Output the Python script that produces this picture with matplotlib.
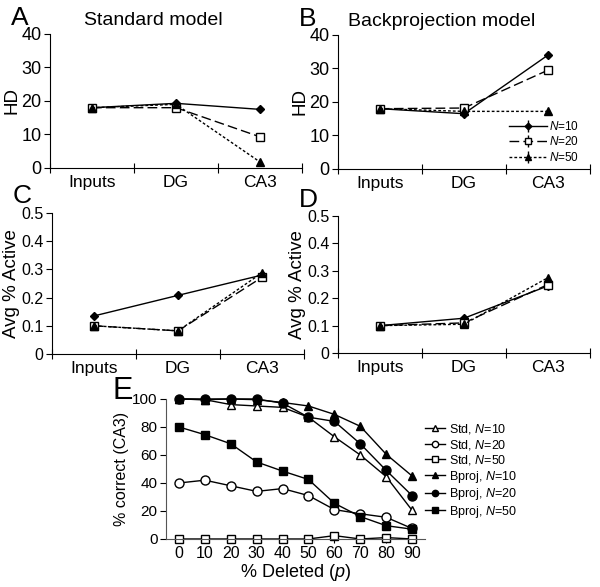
import numpy as np
import matplotlib.pyplot as plt

plt.rcParams['font.family'] = ['Liberation Sans', 'DejaVu Sans']
plt.rcParams['mathtext.fontset'] = 'custom'
plt.rcParams['mathtext.rm'] = 'Liberation Sans'
plt.rcParams['mathtext.it'] = 'Liberation Sans:italic'

stages = ["Inputs", "DG", "CA3"]
n_labels = [r"$\it{N}$=10", r"$\it{N}$=20", r"$\it{N}$=50"]

# HD, standard model (A) and backprojection model (B)
hd_std = [[18.0, 19.3, 17.5], [18.0, 18.0, 9.3], [18.0, 19.0, 1.8]]
hd_std_err = [[0.5, 0.6, 0.4], [0.4, 0.4, 0.4], [0.4, 0.4, 0.3]]
hd_bp = [[18.0, 16.5, 34.0], [18.0, 18.2, 29.5], [18.0, 17.2, 17.2]]
hd_bp_err = [[0.4, 0.4, 0.4], [0.4, 0.4, 0.4], [0.4, 0.3, 0.3]]

# Avg % active, standard (C) and backprojection (D)
act_std = [[0.135, 0.208, 0.280], [0.100, 0.082, 0.272], [0.100, 0.082, 0.288]]
act_std_err = [[0.004, 0.012, 0.004], [0.003, 0.004, 0.004], [0.003, 0.004, 0.004]]
act_bp = [[0.100, 0.127, 0.245], [0.100, 0.110, 0.250], [0.100, 0.105, 0.275]]
act_bp_err = [[0.003, 0.005, 0.006], [0.003, 0.005, 0.006], [0.003, 0.005, 0.006]]

# % correct vs % deleted (E)
deleted = [0, 10, 20, 30, 40, 50, 60, 70, 80, 90]
std_10 = [100, 99.5, 96, 95, 94, 87, 73, 60, 44.5, 20.5]
std_20 = [40, 42, 38, 34, 36, 31, 21, 18, 15.5, 7.5]
std_50 = [0, 0, 0, 0, 0, 0, 2.4, 0, 1, 0]
bp_10 = [100, 99.5, 100, 99.5, 97.5, 95, 89, 80.5, 60.5, 45]
bp_20 = [100, 100, 100, 100, 97, 87, 84, 68, 49, 31]
bp_50 = [80, 74.5, 68, 55, 48.5, 42.5, 25.5, 16, 9.5, 7]

styles = [dict(ls='-', marker='D', mfc='black', ms=4.5),
          dict(ls=(0, (7, 3)), marker='s', mfc='white', ms=6),
          dict(ls=(0, (2, 1.5)), marker='^', mfc='black', ms=5.5)]

fig = plt.figure(figsize=(6, 5.87), dpi=100)


def panel(rect, data, err, ylim, yticks, ylabel, letter, title=None, legend=False):
    ax = fig.add_axes(rect)
    x = np.arange(3) + 0.5
    for d, e, st, lab in zip(data, err, styles, n_labels):
        ax.errorbar(x, d, yerr=e, color='black', lw=1, mec='black',
                    capsize=0, elinewidth=1, label=lab, **st)
    ax.set_xlim(0, 3)
    ax.set_ylim(*ylim)
    ax.set_yticks(yticks)
    ax.set_xticks([0, 1, 2, 3])
    ax.set_xticklabels([])
    ax.set_xticks(x, minor=True)
    ax.set_xticklabels(stages, minor=True, fontsize=12.5)
    ax.tick_params(axis='x', which='minor', length=0, pad=5)
    ax.tick_params(axis='x', which='major', direction='inout', length=7)
    ax.tick_params(axis='y', direction='out', length=4, labelsize=13, pad=2)
    for s in ['top', 'right']:
        ax.spines[s].set_visible(False)
    ax.set_ylabel(ylabel, fontsize=13.5, labelpad=1)
    if title:
        ax.text(0.41, 1.1, title, transform=ax.transAxes, fontsize=14,
                ha='center', va='center')
    ax.text(-0.155, 1.12, letter, transform=ax.transAxes, fontsize=19,
            ha='left', va='center')
    if legend:
        ax.legend(loc='lower right', frameon=False, fontsize=8.5,
                  handlelength=3.2, labelspacing=0.2, handletextpad=0.2,
                  markerscale=0.75, bbox_to_anchor=(1.0, -0.04))
    return ax


panel([0.0833, 0.7138, 0.42, 0.2283], hd_std, hd_std_err, (0, 40),
      [0, 10, 20, 30, 40], "HD", "A", "Standard model")
panel([0.5633, 0.7121, 0.42, 0.2283], hd_bp, hd_bp_err, (0, 40),
      [0, 10, 20, 30, 40], "HD", "B", "Backprojection model", legend=True)
axc = panel([0.0867, 0.397, 0.42, 0.240], act_std, act_std_err, (0, 0.5),
            [0, 0.1, 0.2, 0.3, 0.4, 0.5], "Avg % Active", "C")
axd = panel([0.5633, 0.3986, 0.42, 0.2334], act_bp, act_bp_err, (0, 0.5),
            [0, 0.1, 0.2, 0.3, 0.4, 0.5], "Avg % Active", "D")
for ax in (axc, axd):
    ax.set_yticklabels(["0", "0.1", "0.2", "0.3", "0.4", "0.5"])
    ax.tick_params(axis='y', labelsize=11.5)

# Panel E
axe = fig.add_axes([0.2767, 0.0818, 0.4317, 0.2385])
e_series = [(std_10, '^', 'white', 5.5), (std_20, 'o', 'white', 6.5),
            (std_50, 's', 'white', 6), (bp_10, '^', 'black', 6),
            (bp_20, 'o', 'black', 6.5), (bp_50, 's', 'black', 6)]
e_labels = [r"Std, $\it{N}$=10", r"Std, $\it{N}$=20", r"Std, $\it{N}$=50",
            r"Bproj, $\it{N}$=10", r"Bproj, $\it{N}$=20", r"Bproj, $\it{N}$=50"]
for (vals, m, fc, ms), lab in zip(e_series, e_labels):
    axe.plot(deleted, vals, color='black', lw=1, marker=m, mfc=fc,
             mec='black', ms=ms, label=lab, clip_on=False)
axe.set_xlim(-5, 95)
axe.set_ylim(0, 100)
axe.set_xticks(deleted)
axe.set_yticks([0, 20, 40, 60, 80, 100])
axe.tick_params(axis='x', direction='inout', length=6, labelsize=11.5, pad=2)
axe.tick_params(axis='y', direction='out', length=4, labelsize=11, pad=2)
for s in ['top', 'right']:
    axe.spines[s].set_visible(False)
axe.spines['left'].set_color('#555555')
axe.spines['bottom'].set_color('#555555')
axe.set_xlabel(r"% Deleted ($\it{p}$)", fontsize=13, labelpad=1)
axe.set_ylabel("% correct (CA3)", fontsize=11.5, labelpad=2)
axe.text(-0.205, 1.06, "E", transform=axe.transAxes, fontsize=22,
         ha='left', va='center')
axe.legend(loc='upper left', bbox_to_anchor=(0.98, 0.87), frameon=False,
           fontsize=9, handlelength=1.6, labelspacing=0.12,
           handletextpad=0.3, markerscale=0.7, borderaxespad=0)

fig.savefig("out.png", dpi=100)
